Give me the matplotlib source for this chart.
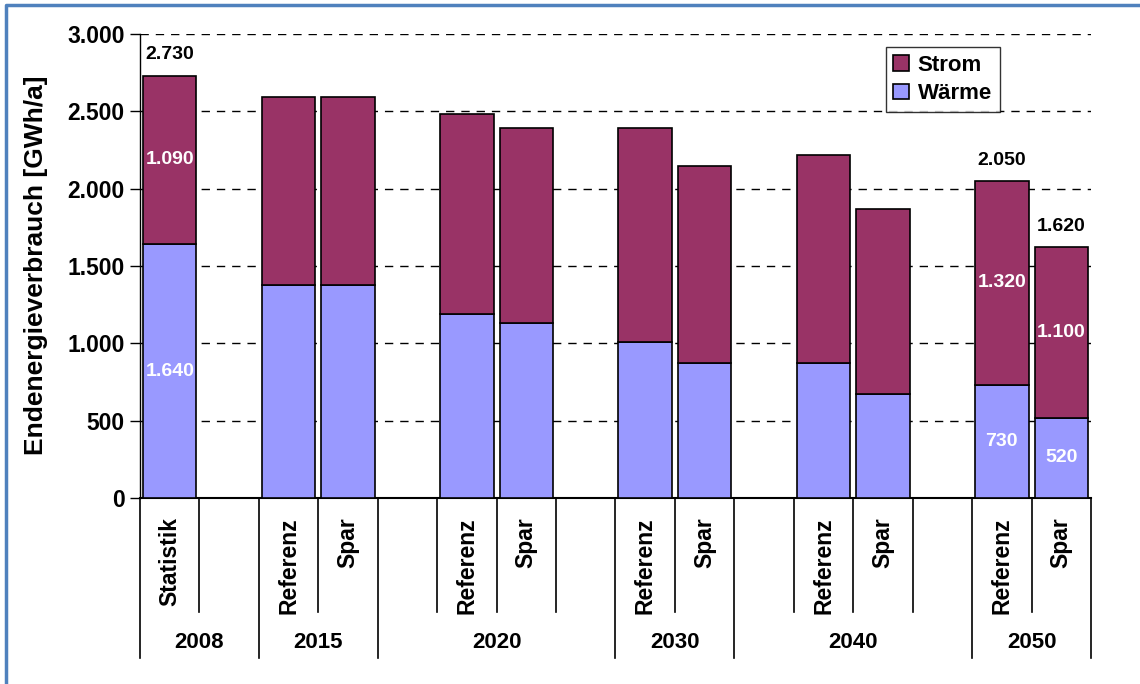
import numpy as np
import matplotlib.pyplot as plt
from matplotlib.lines import Line2D

plt.rcParams['font.family'] = ['Liberation Sans', 'DejaVu Sans']
plt.rcParams['font.weight'] = 'bold'
plt.rcParams['axes.labelweight'] = 'bold'

# data
groups = ['2008', '2015', '2020', '2030', '2040', '2050']
slots = ['Statistik', '', 'Referenz', 'Spar', '', 'Referenz', 'Spar', '',
         'Referenz', 'Spar', '', 'Referenz', 'Spar', '', 'Referenz', 'Spar']
slot_group = [0, 0, 1, 1, 2, 2, 2, 2, 3, 3, 4, 4, 4, 4, 5, 5]
waerme = [1640, np.nan, 1380, 1380, np.nan, 1190, 1130, np.nan,
          1010, 870, np.nan, 875, 675, np.nan, 730, 520]
strom = [1090, np.nan, 1210, 1210, np.nan, 1290, 1260, np.nan,
         1380, 1275, np.nan, 1340, 1190, np.nan, 1320, 1100]
labelled = [0, 14, 15]

waerme = np.array(waerme)
strom = np.array(strom)
total = waerme + strom
x = np.arange(len(slots))


def fmt(v):
    return f'{v:,.0f}'.replace(',', '.')


fig = plt.figure(figsize=(11.4, 6.84), dpi=100)
ax = fig.add_axes([0.1228, 0.272, 0.8342, 0.6784])

c_strom = '#993366'
c_waerme = '#9999FF'
ax.bar(x, waerme, width=0.9, color=c_waerme, edgecolor='black', linewidth=1.2,
       label='Wärme', zorder=3)
ax.bar(x, strom, width=0.9, bottom=waerme, color=c_strom, edgecolor='black',
       linewidth=1.2, label='Strom', zorder=3)

for i in labelled:
    ax.text(x[i], waerme[i] / 2, fmt(waerme[i]), ha='center', va='center',
            color='white', fontsize=14, fontweight='bold', zorder=4)
    ax.text(x[i], waerme[i] + strom[i] / 2, fmt(strom[i]), ha='center',
            va='center', color='white', fontsize=14, fontweight='bold', zorder=4)
    ax.annotate(fmt(total[i]), (x[i], total[i]), xytext=(0, 15),
                textcoords='offset points', ha='center', va='center',
                fontsize=14, fontweight='bold', zorder=4)

ax.set_xlim(-0.5, len(slots) - 0.5)
ax.set_ylim(0, 3000)
ax.set_yticks(np.arange(0, 3001, 500))
ax.set_yticklabels([fmt(v) for v in np.arange(0, 3001, 500)], fontsize=16.5,
                   fontweight='bold')
ax.tick_params(axis='y', direction='out', length=7, width=1, pad=4)
ax.set_xticks([])
ax.yaxis.grid(True, color='black', linestyle=(0, (6, 5)), linewidth=1)
ax.set_axisbelow(True)
for s in ['top', 'right']:
    ax.spines[s].set_visible(False)
ax.spines['left'].set_linewidth(1)
ax.spines['bottom'].set_linewidth(1.5)

ax.set_ylabel('Endenergieverbrauch [GWh/a]', fontsize=19, fontweight='bold')
ax.yaxis.set_label_coords(-0.097, 0.502)

# category axis with two levels
trans = ax.get_xaxis_transform()
row1, row2 = -0.2457, -0.345
bounds = [0]
for k in range(1, len(slots)):
    if slot_group[k] != slot_group[k - 1]:
        bounds.append(k)
bounds.append(len(slots))
for k in range(len(slots) + 1):
    ybot = row2 if k in bounds else row1
    ax.add_line(Line2D([k - 0.5, k - 0.5], [0, ybot], transform=trans,
                       color='black', linewidth=1.2, clip_on=False))
for i, s in enumerate(slots):
    if s:
        ax.text(x[i], -0.041, s, transform=trans, rotation=90, ha='center',
                va='top', fontsize=16.5, fontweight='bold')
for g, name in enumerate(groups):
    lo, hi = bounds[g], bounds[g + 1]
    ax.text((lo + hi - 1) / 2, -0.3125, name, transform=trans, ha='center',
            va='center', fontsize=16, fontweight='bold')

handles, labels = ax.get_legend_handles_labels()
leg = ax.legend(handles[::-1], labels[::-1], loc='upper left',
                bbox_to_anchor=(0.784, 0.972), frameon=True,
                prop={'size': 16, 'weight': 'bold'},
                fancybox=False, edgecolor='black', handlelength=0.7,
                handleheight=0.7, handletextpad=0.4, borderpad=0.35,
                labelspacing=0.35, borderaxespad=0)
leg.get_frame().set_linewidth(1)

# outer frame of the chart area
fig.add_artist(Line2D([6 / 1140, 6 / 1140, 1], [0, 1 - 5 / 684, 1 - 5 / 684],
                      transform=fig.transFigure, color='#4F81BD', linewidth=2.5))

fig.savefig('out.png', dpi=100)
